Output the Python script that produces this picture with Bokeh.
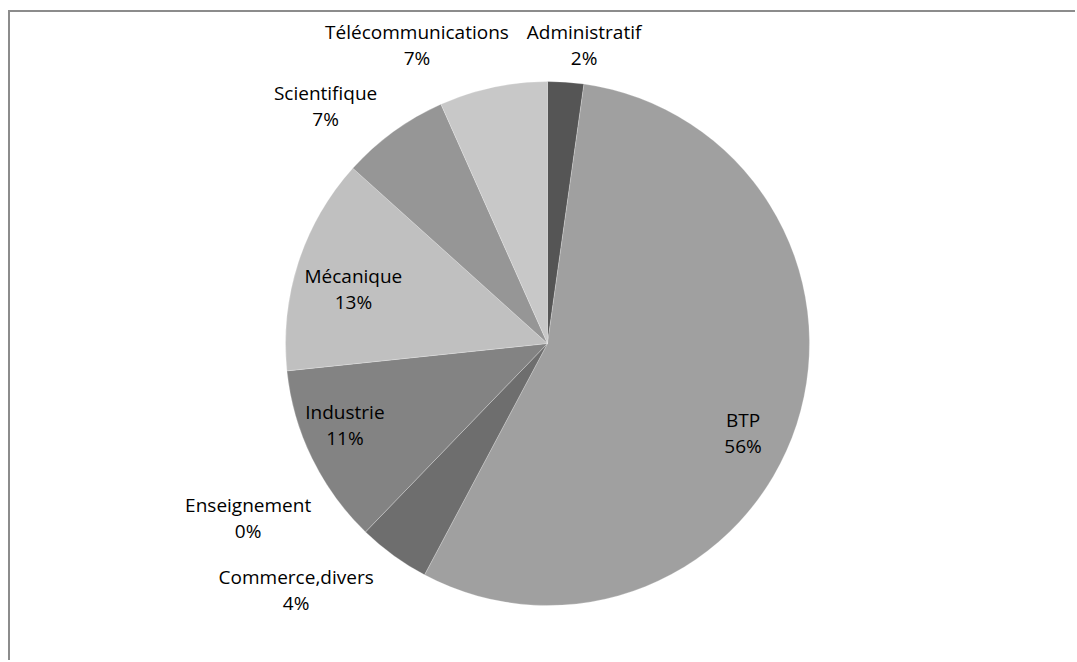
import math
from bokeh.plotting import figure
from bokeh.models import Range1d, ColumnDataSource
from bokeh.core.properties import value
from bokeh.embed import file_html
from bokeh.resources import INLINE

# ---- data ----
categories = ["Administratif", "BTP", "Commerce,divers", "Enseignement",
              "Industrie", "Mécanique", "Scientifique", "Télécommunications"]
counts = [1, 25, 2, 0, 5, 6, 3, 3]
colors = ["#555555", "#a0a0a0", "#6e6e6e", "#787878",
          "#838383", "#c0c0c0", "#969696", "#c8c8c8"]

# ---- label placement (style): radius factor and angular shift (deg) from slice middle ----
label_r = [1.146, 0.820, 1.345, 1.322, 0.834, 0.770, 1.242, 1.242]
label_shift = [3.0, 6.5, 9.5, 15.8, 4.0, -2.2, -7.0, -11.65]

W, H = 1067, 650
CX, CY = 537, 331       # pie centre in pixels from top-left of the figure
R = 262                 # pie radius in pixels

total = sum(counts)
starts, ends, mids = [], [], []
acc = 0.0
for c in counts:
    f0 = acc / total
    acc += c
    f1 = acc / total
    starts.append(math.pi / 2 - f0 * 2 * math.pi)
    ends.append(math.pi / 2 - f1 * 2 * math.pi)
    mids.append((f0 + f1) / 2 * 360)

wedge_idx = [i for i, c in enumerate(counts) if c > 0]
wsrc = ColumnDataSource(dict(
    start=[starts[i] for i in wedge_idx],
    end=[ends[i] for i in wedge_idx],
    color=[colors[i] for i in wedge_idx],
))

lx, ly, ltxt = [], [], []
for i, cat in enumerate(categories):
    ang = math.radians(mids[i] + label_shift[i])
    lx.append(R * label_r[i] * math.sin(ang))
    ly.append(R * label_r[i] * math.cos(ang))
    ltxt.append(f"{cat}\n{round(100 * counts[i] / total)}%")
lsrc = ColumnDataSource(dict(x=lx, y=ly, text=ltxt))

p = figure(width=W, height=H, output_backend="svg", toolbar_location=None,
           x_range=Range1d(-CX, W - CX), y_range=Range1d(-(H - CY), CY),
           min_border=0, outline_line_color=None,
           styles={"margin-left": "8px", "margin-top": "10px",
                   "border-left": "2px solid #8c8c8c", "border-top": "2px solid #8c8c8c"})
p.axis.visible = False
p.grid.visible = False
p.background_fill_color = "white"
p.border_fill_color = "white"

p.wedge(x=0, y=0, radius=R, start_angle="start", end_angle="end",
        direction="clock", fill_color="color", line_color="white",
        line_width=0.6, line_alpha=0.4, source=wsrc)

p.text(x="x", y="y", text="text", source=lsrc, text_align="center",
       text_baseline="middle", text_font=value("Open Sans"),
       text_font_size="19px", text_color="#000000", text_line_height=1.0)

open("out.html", "w").write(file_html(p, INLINE))
